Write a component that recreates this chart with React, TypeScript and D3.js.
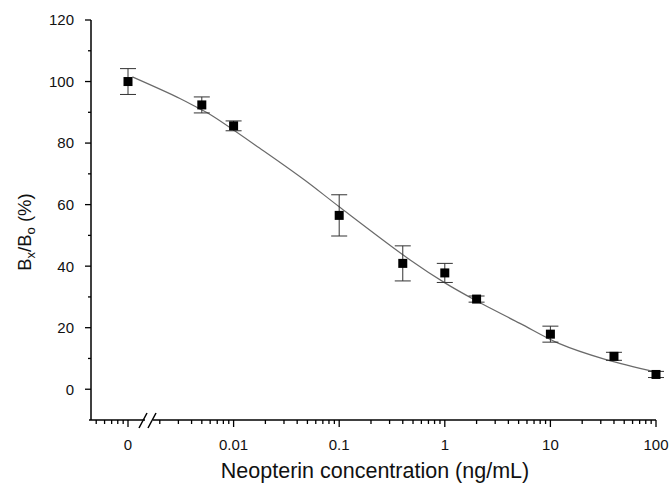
import React from "react";
import * as d3 from "d3";

// Concentrations (ng/mL); the "0" standard is placed at 0.001 on the log axis
const concentrations = [0.001, 0.005, 0.01, 0.1, 0.4, 1, 2, 10, 40, 100];
const meanValues = [100, 92.4, 85.6, 56.5, 40.9, 37.8, 29.3, 17.9, 10.7, 4.8];
const errorValues = [4.2, 2.6, 1.6, 6.7, 5.7, 3.1, 1.0, 2.6, 1.3, 1.0];

// Fitted curve
const curveX = [0.0011, 0.0031, 0.0046, 0.006, 0.019, 0.047, 0.1, 0.47, 1.02, 1.93, 5.15, 12, 33, 100];
const curveY = [101.5, 94.5, 91.4, 89.3, 77.6, 68, 59.3, 42, 34.4, 29, 21.4, 14.9, 9.7, 5.6];

const xTickValues = [0.001, 0.01, 0.1, 1, 10, 100];
const xTickLabels = ["0", "0.01", "0.1", "1", "10", "100"];
const yTickValues = [0, 20, 40, 60, 80, 100, 120];
const yMinorValues = [10, 30, 50, 70, 90, 110];

const W = 670;
const H = 486;

export default function App() {
  const x = d3.scaleLog().domain([0.001, 100]).range([128, 656]);
  const y = d3.scaleLinear().domain([-10, 120]).range([420, 20]);
  const axisY = 420;
  const axisX = 91;
  const xStart = 89;
  const font = "Liberation Sans, Arial, sans-serif";

  // minor x ticks
  const minorX: number[] = [];
  for (let m = 5; m <= 9; m++) minorX.push(m * 0.0001);
  for (let e = -3; e <= 1; e++) {
    for (let m = 2; m <= 9; m++) {
      minorX.push(m * Math.pow(10, e));
    }
  }

  const line = d3
    .line<number>()
    .x((_, i) => x(curveX[i]))
    .y((d) => y(d))
    .curve(d3.curveCatmullRom.alpha(0.5));

  const breakX = 150;

  return (
    <svg width={W} height={H} style={{ position: "absolute", left: 0, top: 0, background: "#fff" }}>
      <rect x={0} y={0} width={W} height={H} fill="#fff" />
      {/* fitted curve */}
      <path d={line(curveY) || ""} fill="none" stroke="#6a6a6a" strokeWidth={1.2} />
      {/* error bars */}
      {concentrations.map((c, i) => {
        const cx = x(c);
        const top = y(meanValues[i] + errorValues[i]);
        const bot = y(meanValues[i] - errorValues[i]);
        return (
          <g key={"e" + i} stroke="#333" strokeWidth={1}>
            <line x1={cx} x2={cx} y1={top} y2={bot} />
            <line x1={cx - 8} x2={cx + 8} y1={top} y2={top} />
            <line x1={cx - 8} x2={cx + 8} y1={bot} y2={bot} />
          </g>
        );
      })}
      {/* markers */}
      {concentrations.map((c, i) => (
        <rect key={"m" + i} x={x(c) - 4.5} y={y(meanValues[i]) - 4.5} width={9} height={9} fill="#000" />
      ))}
      {/* y axis */}
      <line x1={axisX} x2={axisX} y1={y(120)} y2={axisY} stroke="#000" strokeWidth={1.5} />
      {yTickValues.map((v) => (
        <g key={"yt" + v}>
          <line x1={axisX - 6} x2={axisX} y1={y(v)} y2={y(v)} stroke="#000" strokeWidth={1.3} />
          <text x={74} y={y(v)} dy="0.36em" textAnchor="end" fontFamily={font} fontSize={15} fill="#111">
            {v}
          </text>
        </g>
      ))}
      {yMinorValues.map((v) => (
        <line key={"ym" + v} x1={axisX - 3} x2={axisX} y1={y(v)} y2={y(v)} stroke="#000" strokeWidth={1.3} />
      ))}
      {/* x axis with break */}
      <line x1={xStart} x2={breakX - 5} y1={axisY} y2={axisY} stroke="#000" strokeWidth={1.5} />
      <line x1={breakX + 3} x2={x(100)} y1={axisY} y2={axisY} stroke="#000" strokeWidth={1.5} />
      <line x1={breakX - 11} x2={breakX - 3} y1={axisY + 8} y2={axisY - 7} stroke="#000" strokeWidth={1.5} />
      <line x1={breakX - 2} x2={breakX + 6} y1={axisY + 8} y2={axisY - 7} stroke="#000" strokeWidth={1.5} />
      {xTickValues.map((v, i) => (
        <g key={"xt" + v}>
          <line x1={x(v)} x2={x(v)} y1={axisY} y2={axisY + 7} stroke="#000" strokeWidth={1.3} />
          <text x={x(v)} y={axisY + 30} textAnchor="middle" fontFamily={font} fontSize={15} fill="#111">
            {xTickLabels[i]}
          </text>
        </g>
      ))}
      {minorX.map((v, i) => (
        <line key={"xm" + i} x1={x(v)} x2={x(v)} y1={axisY} y2={axisY + 4} stroke="#000" strokeWidth={1.3} />
      ))}
      {/* axis titles */}
      <text x={375} y={478} textAnchor="middle" fontFamily={font} fontSize={21.5} fill="#111">
        Neopterin concentration (ng/mL)
      </text>
      <text
        transform={`translate(31, 232) rotate(-90)`}
        textAnchor="middle"
        fontFamily={font}
        fontSize={18.5}
        fill="#111"
      >
        B<tspan fontSize={13} dy={4}>x</tspan>
        <tspan dy={-4}>/B</tspan>
        <tspan fontSize={13} dy={4}>o</tspan>
        <tspan dy={-4}> (%)</tspan>
      </text>
    </svg>
  );
}
